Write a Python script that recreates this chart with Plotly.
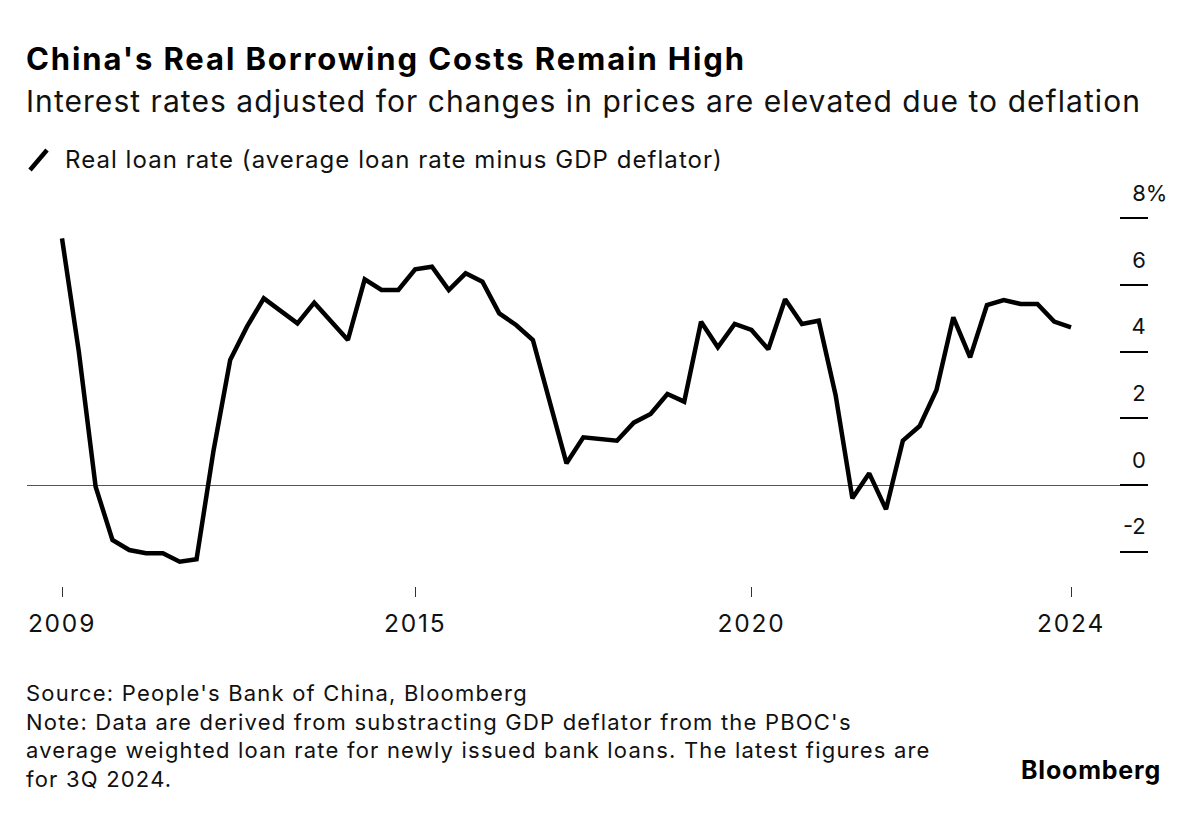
import plotly.graph_objects as go

# ---- data ----
start_year, start_q = 2009, 3
n_points = 61
quarters = []
y_, q_ = start_year, start_q
for _ in range(n_points):
    quarters.append(f"{y_}Q{q_}")
    q_ += 1
    if q_ > 4:
        q_ = 1
        y_ += 1

real_loan_rate = [
    7.40, 4.00, -0.05, -1.65, -1.95, -2.05, -2.05, -2.30, -2.23, 1.00,
    3.75, 4.75, 5.60, 5.23, 4.85, 5.47, 4.90, 4.35, 6.17, 5.85,
    5.85, 6.47, 6.55, 5.85, 6.35, 6.10, 5.15, 4.80, 4.35, 2.50,
    0.65, 1.43, 1.38, 1.33, 1.87, 2.13, 2.73, 2.50, 4.90, 4.13,
    4.83, 4.65, 4.07, 5.57, 4.83, 4.93, 2.70, -0.40, 0.35, -0.73,
    1.33, 1.77, 2.85, 5.03, 3.83, 5.40, 5.55, 5.43, 5.43, 4.90,
    4.73,
]

x_tick_cats = [quarters[0], quarters[21], quarters[41], quarters[60]]
x_tick_text = ["2009", "2015", "2020", "2024"]

y_tick_vals = [-2, 0, 2, 4, 6, 8]
y_tick_text = ["-2", "0", "2", "4", "6", "8%"]

title = "China's Real Borrowing Costs Remain High"
subtitle = "Interest rates adjusted for changes in prices are elevated due to deflation"
legend_label = "Real loan rate (average loan rate minus GDP deflator)"
footnote_lines = [
    "Source: People's Bank of China, Bloomberg",
    "Note: Data are derived from substracting GDP deflator from the PBOC's",
    "average weighted loan rate for newly issued bank loans. The latest figures are",
    "for 3Q 2024.",
]

# ---- layout geometry ----
W, H = 1200, 814
L, R, T, B = 27, 1148, 200, 586
FONT = "Inter, Liberation Sans, Arial, sans-serif"


def px(xp):
    return (xp - L) / (R - L)


def py(yp):
    return (B - yp) / (B - T)


def spaced(text, ls):
    return f"<span style='letter-spacing:{ls}px'>{text}</span>"


hide = "<span style='color:rgba(0,0,0,0)'>%</span>"
y_text_padded = [t if t.endswith("%") else t + hide for t in y_tick_text]
x_text_spaced = [spaced(t, 1.8) for t in x_tick_text]

fig = go.Figure()
fig.add_trace(go.Scatter(
    x=quarters, y=real_loan_rate, mode="lines",
    line=dict(color="#000000", width=4.5),
    showlegend=False, hoverinfo="skip",
))

fig.update_layout(
    width=W, height=H,
    margin=dict(l=L, r=W - R, t=T, b=H - B, pad=0),
    paper_bgcolor="white", plot_bgcolor="white",
    font=dict(family=FONT, color="#000000"),
    xaxis=dict(
        type="category",
        range=[-35 / 16.817, (R - 62) / 16.817],
        tickmode="array", tickvals=x_tick_cats, ticktext=x_text_spaced,
        ticks="outside", ticklen=10, tickwidth=1, tickcolor="#333333",
        showgrid=False, zeroline=False, showline=False,
        tickfont=dict(size=24.5, color="#111111"),
        ticklabelstandoff=6,
    ),
    yaxis=dict(
        side="right",
        range=[(485 - B) / 33.333, (485 - T) / 33.333],
        tickmode="array", tickvals=y_tick_vals, ticktext=y_text_padded,
        ticks="inside", ticklen=28, tickwidth=1.5, tickcolor="#000000",
        ticklabelposition="inside", ticklabelshift=-25, ticklabelstandoff=-46,
        ticklabeloverflow="allow",
        tickfont=dict(size=22, color="#111111"),
        showgrid=False, showline=False,
        zeroline=True, zerolinecolor="#555555", zerolinewidth=1.2,
    ),
)

ann = []
ann.append(dict(text=f"<b>{spaced(title, 1.9)}</b>", x=px(24), y=py(58), xref="paper", yref="paper",
                xanchor="left", yanchor="middle", showarrow=False,
                font=dict(size=31, family=FONT, color="#000000")))
ann.append(dict(text=spaced(subtitle, 1.05), x=px(24), y=py(101), xref="paper", yref="paper",
                xanchor="left", yanchor="middle", showarrow=False,
                font=dict(size=30, family=FONT, color="#111111")))
ann.append(dict(text=spaced(legend_label, 1.05), x=px(63), y=py(159), xref="paper", yref="paper",
                xanchor="left", yanchor="middle", showarrow=False,
                font=dict(size=24, family=FONT, color="#111111")))
ann.append(dict(text="<br>".join(spaced(s, 1.2) for s in footnote_lines), x=px(24), y=py(678),
                xref="paper", yref="paper",
                xanchor="left", yanchor="top", align="left", showarrow=False,
                font=dict(size=22, family=FONT, color="#111111")))
ann.append(dict(text=f"<b>{spaced('Bloomberg', 0.8)}</b>", x=px(1163), y=py(770), xref="paper", yref="paper",
                xanchor="right", yanchor="middle", showarrow=False,
                font=dict(size=25, family=FONT, color="#000000")))
fig.update_layout(annotations=ann)

# legend swatch (slanted stroke)
fig.add_shape(type="line", xref="paper", yref="paper",
              x0=px(30), y0=py(170), x1=px(47), y1=py(150),
              line=dict(color="#000000", width=4.5))

fig.write_html("out.html")
